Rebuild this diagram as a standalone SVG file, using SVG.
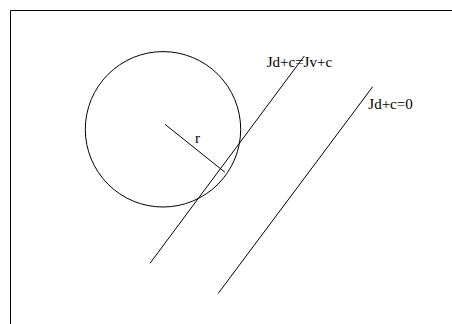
<svg xmlns="http://www.w3.org/2000/svg" width="452" height="324" viewBox="0 0 452 324">
<style>
.s{fill:none;stroke:#000;stroke-width:1}
.t{font-family:"Liberation Serif",serif;font-size:15px;fill:#000}
</style>
<rect width="452" height="324" fill="#fff"/>
<g id="frame"><path class="s" d="M10.5,324 V10.5 H452"/></g>
<g id="circle"><circle class="s" cx="163" cy="129.3" r="77.7"/></g>
<g id="radius"><line class="s" x1="165" y1="124.3" x2="225" y2="172.3"/><text class="t" x="195" y="142.5">r</text></g>
<g id="connectors">
<line class="s" x1="150" y1="263.3" x2="304.3" y2="56"/>
<line class="s" x1="218.3" y1="293.3" x2="372.7" y2="86.7"/>
</g>
<g id="label1"><text class="t" x="266.7" y="66.5">Jd+c=Jv+c</text></g>
<g id="label2"><text class="t" x="368.3" y="109">Jd+c=0</text></g>
</svg>
